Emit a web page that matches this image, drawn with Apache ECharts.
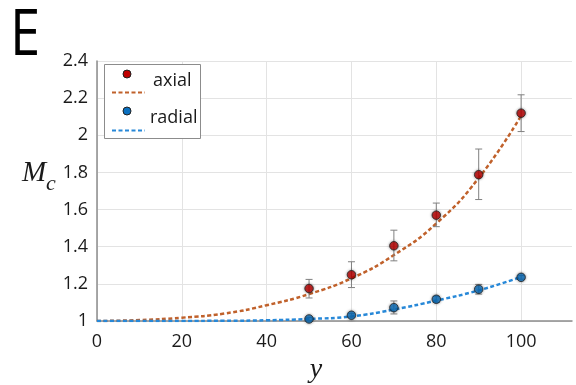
<!DOCTYPE html>
<html><head><meta charset="utf-8">
<script src="https://cdn.jsdelivr.net/npm/echarts@6/dist/echarts.min.js"></script>
<style>html,body{margin:0;padding:0;background:#fff}#c{width:576px;height:385px}</style>
</head><body><div id="c"></div>
<script>
// Data
const xTicks = [0, 20, 40, 60, 80, 100];
const yTicks = [1, 1.2, 1.4, 1.6, 1.8, 2, 2.2, 2.4];
const xPts = [50, 60, 70, 80, 90, 100];
const axialVals = [1.175, 1.249, 1.405, 1.570, 1.788, 2.119];
const axialLow  = [1.124, 1.180, 1.324, 1.508, 1.654, 2.020];
const axialHigh = [1.224, 1.319, 1.489, 1.635, 1.926, 2.218];
const radialVals = [1.011, 1.031, 1.072, 1.117, 1.171, 1.235];
const radialLow  = [1.003, 1.022, 1.038, 1.100, 1.145, 1.225];
const radialHigh = [1.019, 1.040, 1.108, 1.133, 1.197, 1.245];
const fitX = [0, 10, 20, 30, 40, 50, 60, 70, 80, 90, 100];
const axialFit  = [1, 1.005, 1.018, 1.040, 1.085, 1.145, 1.230, 1.355, 1.525, 1.770, 2.105];
const radialFit = [1, 1.000, 1.0005, 1.001, 1.004, 1.011, 1.025, 1.062, 1.110, 1.165, 1.237];
const seriesNames = ['axial', 'radial'];

const RED = '#c00000', BLUE = '#0a70c0', ORANGE = '#c0612b', LBLUE = '#2788d8';
const FONT = 'Open Sans';

const chart = echarts.init(document.getElementById('c'), null, {renderer: 'canvas'});
const zip = (a, b) => a.map((v, i) => [v, b[i]]);
const errData = (lo, hi) => xPts.map((x, i) => [x, lo[i], hi[i]]);
function errRender(params, api) {
  const x = api.value(0);
  const p1 = api.coord([x, api.value(1)]);
  const p2 = api.coord([x, api.value(2)]);
  const st = {stroke: '#808080', lineWidth: 1};
  return {type: 'group', children: [
    {type: 'line', shape: {x1: p1[0], y1: p1[1], x2: p2[0], y2: p2[1]}, style: st},
    {type: 'line', shape: {x1: p1[0]-3.5, y1: p1[1], x2: p1[0]+3.5, y2: p1[1]}, style: st},
    {type: 'line', shape: {x1: p2[0]-3.5, y1: p2[1], x2: p2[0]+3.5, y2: p2[1]}, style: st}
  ]};
}
const markerStyle = c => ({color: c, borderColor: '#222', borderWidth: 1, shadowBlur: 3, shadowColor: 'rgba(0,0,0,0.45)'});

chart.setOption({
  animation: false,
  grid: {left: 97, right: 4, top: 61, bottom: 64, containLabel: false},
  xAxis: {
    type: 'value', min: 0, max: 112, interval: 20,
    axisLine: {show: true, lineStyle: {color: '#8c8c8c', width: 1.5}},
    axisTick: {show: false},
    axisLabel: {fontFamily: FONT, fontSize: 18, color: '#1a1a1a', margin: 12, showMaxLabel: false,
      formatter: v => xTicks.includes(v) ? String(v) : ''},
    splitLine: {show: true, showMaxLine: false, lineStyle: {color: '#e3e3e3', width: 1}}
  },
  yAxis: {
    type: 'value', min: 1, max: 2.4, interval: 0.2,
    axisLine: {show: true, lineStyle: {color: '#8c8c8c', width: 1.5}},
    axisTick: {show: false},
    axisLabel: {fontFamily: FONT, fontSize: 18, color: '#1a1a1a', margin: 9,
      formatter: v => { const t = yTicks.find(k => Math.abs(k - v) < 1e-6); return t === undefined ? '' : String(t); }},
    splitLine: {show: true, lineStyle: {color: '#e3e3e3', width: 1}}
  },
  series: [
    {name: seriesNames[0] + ' fit', type: 'line', data: zip(fitX, axialFit), smooth: 0.5, showSymbol: false,
      lineStyle: {color: ORANGE, width: 2.5, type: [4, 2.5]}, z: 2},
    {name: seriesNames[1] + ' fit', type: 'line', data: zip(fitX, radialFit), smooth: 0.5, showSymbol: false,
      lineStyle: {color: LBLUE, width: 2.5, type: [4, 2.5]}, z: 2},
    {type: 'custom', data: errData(axialLow, axialHigh), renderItem: errRender, z: 3},
    {type: 'custom', data: errData(radialLow, radialHigh), renderItem: errRender, z: 3},
    {name: seriesNames[0], type: 'scatter', data: zip(xPts, axialVals), symbolSize: 8.5, itemStyle: markerStyle(RED), z: 4},
    {name: seriesNames[1], type: 'scatter', data: zip(xPts, radialVals), symbolSize: 8.5, itemStyle: markerStyle(BLUE), z: 4}
  ],
  graphic: [
    {type: 'text', x: 10, y: 5, scaleX: 0.85, style: {text: 'E', fontFamily: FONT, fontSize: 64, fill: '#000', verticalAlign: 'top'}},
    {type: 'text', x: 22, y: 173, style: {text: 'M', fontFamily: 'Liberation Serif', fontStyle: 'italic', fontSize: 29, fill: '#1a1a1a', verticalAlign: 'middle'}},
    {type: 'text', x: 46, y: 184, style: {text: 'c', fontFamily: 'Liberation Serif', fontStyle: 'italic', fontSize: 22, fill: '#1a1a1a', verticalAlign: 'middle'}},
    {type: 'text', x: 316, y: 370, style: {text: 'y', fontFamily: 'Liberation Serif', fontStyle: 'italic', fontSize: 28, fill: '#1a1a1a', align: 'center', verticalAlign: 'middle'}},
    {type: 'rect', shape: {x: 104.5, y: 64.5, width: 96, height: 74}, style: {fill: '#fff', stroke: '#8c8c8c', lineWidth: 1}, z: 10},
    {type: 'circle', shape: {cx: 127, cy: 74, r: 4}, style: {fill: RED, stroke: '#222', lineWidth: 1}, z: 11},
    {type: 'text', x: 153, y: 81, style: {text: seriesNames[0], fontFamily: FONT, fontSize: 18, fill: '#1a1a1a', verticalAlign: 'middle'}, z: 11},
    {type: 'line', shape: {x1: 112, y1: 92.5, x2: 145, y2: 92.5}, style: {stroke: ORANGE, lineWidth: 2, lineDash: [4, 2.5]}, z: 11},
    {type: 'circle', shape: {cx: 127, cy: 111, r: 4}, style: {fill: BLUE, stroke: '#222', lineWidth: 1}, z: 11},
    {type: 'text', x: 150, y: 118, style: {text: seriesNames[1], fontFamily: FONT, fontSize: 18, fill: '#1a1a1a', verticalAlign: 'middle'}, z: 11},
    {type: 'line', shape: {x1: 112, y1: 130.5, x2: 145, y2: 130.5}, style: {stroke: LBLUE, lineWidth: 2, lineDash: [4, 2.5]}, z: 11}
  ]
});
</script></body></html>
